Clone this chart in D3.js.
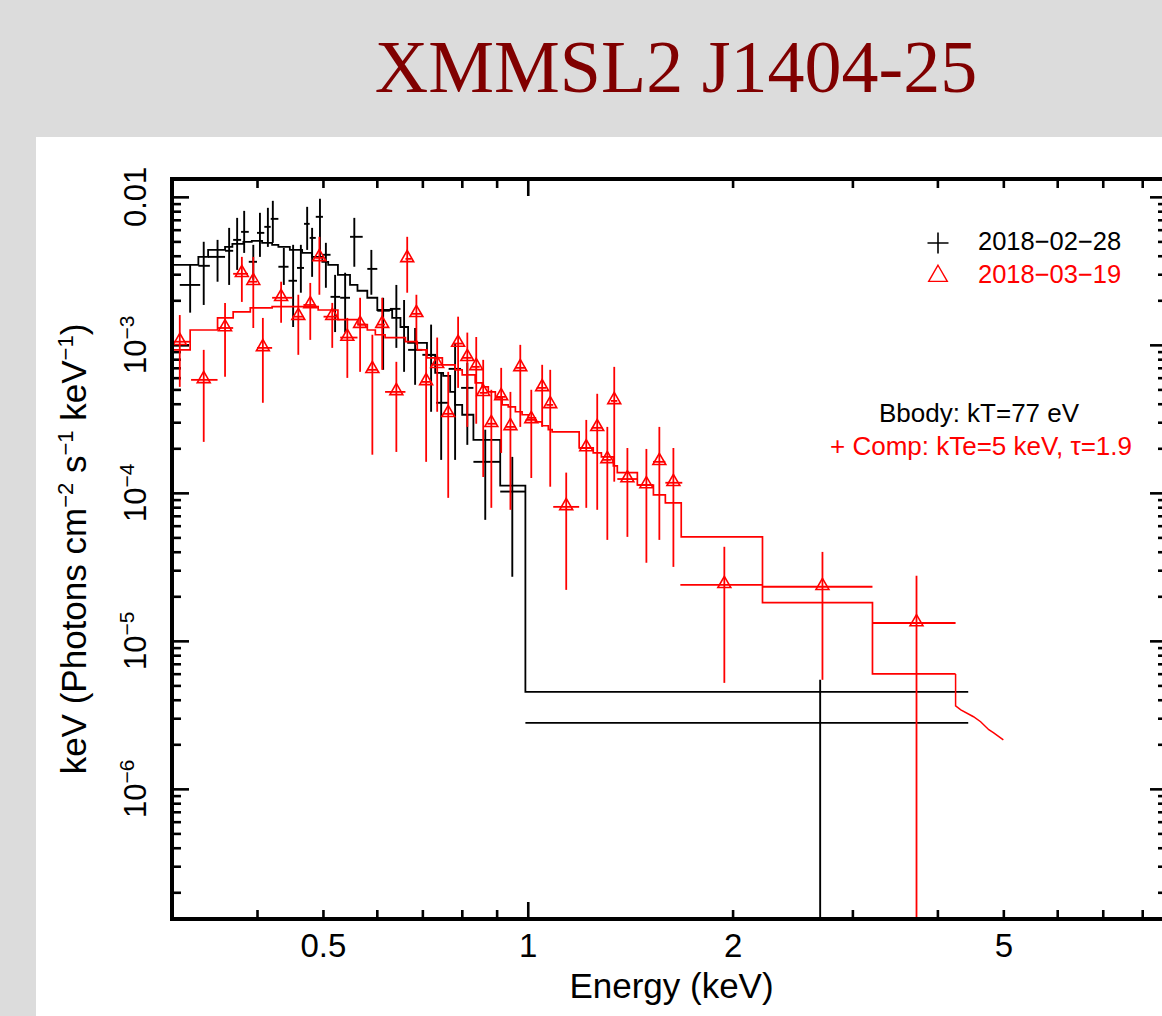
<!DOCTYPE html>
<html>
<head>
<meta charset="utf-8">
<script src="https://cdn.jsdelivr.net/npm/d3@7"></script>
<style>
  html, body { margin: 0; padding: 0; background: #dcdcdc; }
  svg { display: block; }
</style>
</head>
<body>
<svg id="chart" width="1162" height="1016"></svg>
<script>
// ---------------------------------------------------------------
// Unfolded X-ray spectra of XMMSL2 J1404-25 (two epochs) with fitted models
// ---------------------------------------------------------------
const titleText = "XMMSL2 J1404-25";
const xLabel = "Energy (keV)";
const seriesNames = ["2018\u221202\u221228", "2018\u221203\u221219"];
const modelNotes = ["Bbody: kT=77 eV", "+ Comp: kTe=5 keV, \u03c4=1.9"];

// axis ranges and ticks
const xDomain = [0.3, 8.7];
const yDomain = [1.32e-7, 1.32e-2];
const xTickLabels = [0.5, 1, 2, 5];
const xMajorTicks = [1];
const xMinorTicks = [0.4, 0.5, 0.6, 0.7, 0.8, 0.9, 2, 3, 4, 5, 6, 7, 8];
const yDecades = [1e-7, 1e-6, 1e-5, 1e-4, 1e-3, 1e-2];
const yTickLabels = [
  { v: 1e-2, base: "0.01", exp: "" },
  { v: 1e-3, base: "10", exp: "\u22123" },
  { v: 1e-4, base: "10", exp: "\u22124" },
  { v: 1e-5, base: "10", exp: "\u22125" },
  { v: 1e-6, base: "10", exp: "\u22126" }
];

// 2018-02-28 spectrum: [E, E low, E high, flux, flux low, flux high]
const epoch1Data = [
  [0.319, 0.308, 0.330, 2.54e-3, 1.65e-3, 3.47e-3],
  [0.334, 0.328, 0.341, 3.42e-3, 1.86e-3, 4.97e-3],
  [0.350, 0.339, 0.359, 3.93e-3, 2.67e-3, 5.12e-3],
  [0.364, 0.359, 0.369, 4.32e-3, 2.54e-3, 6.17e-3],
  [0.374, 0.369, 0.379, 5.12e-3, 3.21e-3, 7.21e-3],
  [0.383, 0.379, 0.389, 5.80e-3, 4.18e-3, 8.04e-3],
  [0.395, 0.389, 0.400, 3.64e-3, 2.75e-3, 4.74e-3],
  [0.404, 0.400, 0.410, 5.71e-3, 3.93e-3, 7.80e-3],
  [0.415, 0.410, 0.419, 6.27e-3, 4.59e-3, 8.43e-3],
  [0.422, 0.419, 0.430, 7.10e-3, 4.89e-3, 9.40e-3],
  [0.438, 0.430, 0.445, 3.37e-3, 2.54e-3, 4.52e-3],
  [0.452, 0.445, 0.458, 2.71e-3, 1.32e-3, 4.74e-3],
  [0.464, 0.458, 0.469, 3.31e-3, 2.25e-3, 4.74e-3],
  [0.474, 0.469, 0.478, 6.57e-3, 4.38e-3, 8.56e-3],
  [0.482, 0.478, 0.488, 5.28e-3, 2.88e-3, 6.17e-3],
  [0.495, 0.488, 0.500, 7.33e-3, 3.93e-3, 9.69e-3],
  [0.505, 0.500, 0.513, 4.06e-3, 2.43e-3, 4.89e-3],
  [0.521, 0.513, 0.530, 2.11e-3, 1.22e-3, 2.97e-3],
  [0.539, 0.530, 0.548, 2.08e-3, 1.21e-3, 3.07e-3],
  [0.556, 0.548, 0.572, 5.37e-3, 3.37e-3, 7.21e-3],
  [0.589, 0.581, 0.601, 3.26e-3, 2.18e-3, 4.38e-3],
  [0.613, 0.601, 0.627, 1.70e-3, 6.78e-4, 2.08e-3],
  [0.641, 0.627, 0.650, 1.75e-3, 9.54e-4, 2.54e-3],
  [0.658, 0.650, 0.667, 1.32e-3, 6.57e-4, 2.01e-3],
  [0.683, 0.667, 0.700, 9.25e-4, 5.37e-4, 1.30e-3],
  [0.721, 0.700, 0.733, 8.56e-4, 3.53e-4, 1.37e-3],
  [0.746, 0.733, 0.765, 4.06e-4, 1.67e-4, 6.47e-4],
  [0.782, 0.765, 0.798, 6.88e-4, 1.67e-4, 1.03e-3],
  [0.815, 0.798, 0.832, 5.12e-4, 2.11e-4, 7.56e-4],
  [0.866, 0.832, 0.911, 1.62e-4, 6.57e-5, 2.67e-4],
  [0.949, 0.911, 0.992, 1.02e-4, 2.71e-5, 1.75e-4],
  [2.69, 0.992, 4.44, 2.79e-6, 1e-9, 5.45e-6]
];

// 2018-03-19 spectrum: [E, E low, E high, flux, flux low, flux high]
const epoch2Data = [
  [0.308, 0.301, 0.319, 1.05e-3, 5.20e-4, 1.59e-3],
  [0.334, 0.320, 0.350, 5.80e-4, 2.21e-4, 9.25e-4],
  [0.359, 0.350, 0.369, 1.30e-3, 6.08e-4, 1.92e-3],
  [0.380, 0.369, 0.388, 3.02e-3, 1.95e-3, 3.93e-3],
  [0.395, 0.388, 0.400, 2.67e-3, 1.30e-3, 3.93e-3],
  [0.408, 0.400, 0.421, 9.54e-4, 4.06e-4, 1.52e-3],
  [0.434, 0.421, 0.451, 2.08e-3, 1.41e-3, 2.67e-3],
  [0.460, 0.451, 0.468, 1.55e-3, 8.56e-4, 2.18e-3],
  [0.479, 0.468, 0.487, 1.86e-3, 1.08e-3, 2.62e-3],
  [0.494, 0.487, 0.501, 3.87e-3, 2.18e-3, 5.37e-3],
  [0.516, 0.501, 0.526, 1.55e-3, 9.54e-4, 1.92e-3],
  [0.543, 0.530, 0.562, 1.12e-3, 5.98e-4, 1.52e-3],
  [0.567, 0.562, 0.579, 1.37e-3, 6.57e-4, 2.08e-3],
  [0.591, 0.581, 0.601, 6.78e-4, 1.81e-4, 1.17e-3],
  [0.611, 0.601, 0.617, 1.37e-3, 6.78e-4, 2.08e-3],
  [0.641, 0.617, 0.661, 4.81e-4, 1.89e-4, 7.68e-4],
  [0.665, 0.661, 0.675, 3.81e-3, 2.25e-3, 5.37e-3],
  [0.686, 0.675, 0.698, 1.62e-3, 1.00e-3, 2.18e-3],
  [0.709, 0.698, 0.722, 5.62e-4, 1.62e-4, 9.25e-4],
  [0.736, 0.722, 0.750, 7.33e-4, 3.53e-4, 1.12e-3],
  [0.764, 0.750, 0.777, 3.42e-4, 9.25e-5, 6.57e-4],
  [0.790, 0.777, 0.802, 1.02e-3, 5.12e-4, 1.55e-3],
  [0.815, 0.802, 0.827, 8.17e-4, 2.79e-4, 1.21e-3],
  [0.840, 0.827, 0.850, 7.10e-4, 2.93e-4, 1.13e-3],
  [0.860, 0.850, 0.872, 4.74e-4, 1.28e-4, 7.92e-4],
  [0.884, 0.872, 0.899, 2.93e-4, 7.92e-5, 4.97e-4],
  [0.914, 0.899, 0.928, 4.45e-4, 1.86e-4, 6.99e-4],
  [0.943, 0.928, 0.959, 2.79e-4, 7.68e-5, 4.81e-4],
  [0.975, 0.959, 0.993, 6.99e-4, 2.79e-4, 1.00e-3],
  [1.012, 0.993, 1.031, 3.11e-4, 1.26e-4, 4.97e-4],
  [1.050, 1.031, 1.065, 5.12e-4, 2.79e-4, 7.33e-4],
  [1.079, 1.065, 1.090, 3.93e-4, 1.10e-4, 6.78e-4],
  [1.139, 1.090, 1.190, 8.04e-5, 2.21e-5, 1.37e-4],
  [1.219, 1.190, 1.242, 2.01e-4, 7.92e-5, 3.11e-4],
  [1.265, 1.242, 1.287, 2.75e-4, 7.68e-5, 4.67e-4],
  [1.309, 1.287, 1.325, 1.67e-4, 4.81e-5, 2.79e-4],
  [1.340, 1.325, 1.354, 4.18e-4, 1.19e-4, 7.10e-4],
  [1.401, 1.354, 1.449, 1.24e-4, 5.04e-5, 2.01e-4],
  [1.494, 1.449, 1.528, 1.13e-4, 3.37e-5, 1.98e-4],
  [1.561, 1.528, 1.593, 1.62e-4, 4.81e-5, 2.79e-4],
  [1.637, 1.593, 1.687, 1.17e-4, 3.16e-5, 2.01e-4],
  [1.945, 1.676, 2.213, 2.39e-5, 5.20e-6, 4.32e-5],
  [2.711, 2.213, 3.211, 2.32e-5, 5.45e-6, 3.99e-5],
  [3.727, 3.211, 4.254, 1.32e-5, 1e-9, 2.75e-5]
];

// folded model histograms: bin edges and values
const epoch1ModelEdges = [0.301, 0.328, 0.339, 0.359, 0.368, 0.382, 0.393, 0.407, 0.421, 0.430,
  0.447, 0.466, 0.482, 0.499, 0.509, 0.526, 0.548, 0.562, 0.581, 0.601, 0.632, 0.650, 0.667,
  0.711, 0.731, 0.751, 0.769, 0.782, 0.801, 0.832, 0.911, 0.992, 4.44];
const epoch1ModelValues = [3.47e-3, 3.93e-3, 4.38e-3, 4.59e-3, 4.81e-3, 4.97e-3, 5.04e-3, 4.89e-3,
  4.74e-3, 4.59e-3, 4.38e-3, 4.18e-3, 3.93e-3, 3.64e-3, 3.47e-3, 2.97e-3, 2.54e-3, 2.32e-3,
  2.08e-3, 1.72e-3, 1.52e-3, 1.32e-3, 1.03e-3, 8.56e-4, 6.47e-4, 6.17e-4, 4.81e-4, 3.93e-4,
  3.37e-4, 2.28e-4, 1.12e-4, 4.52e-6];

const epoch2ModelEdges = [0.301, 0.319, 0.350, 0.369, 0.391, 0.421, 0.492, 0.526, 0.563, 0.581,
  0.597, 0.617, 0.661, 0.688, 0.711, 0.749, 0.782, 0.801, 0.837, 0.857, 0.875, 0.896, 0.917,
  0.936, 0.959, 0.981, 1.002, 1.026, 1.050, 1.072, 1.086, 1.190, 1.248, 1.283, 1.336, 1.354,
  1.449, 1.530, 1.593, 1.681, 2.213, 3.211, 4.254];
const epoch2ModelValues = [9.25e-4, 1.26e-3, 1.52e-3, 1.67e-3, 1.78e-3, 1.81e-3, 1.72e-3, 1.48e-3,
  1.37e-3, 1.26e-3, 1.17e-3, 1.12e-3, 1.05e-3, 9.25e-4, 8.17e-4, 7.33e-4, 6.78e-4, 6.27e-4,
  5.53e-4, 5.20e-4, 4.81e-4, 4.38e-4, 3.93e-4, 3.81e-4, 3.53e-4, 3.37e-4, 3.21e-4, 3.02e-4,
  2.84e-4, 2.67e-4, 2.58e-4, 2.01e-4, 1.86e-4, 1.75e-4, 1.52e-4, 1.37e-4, 1.13e-4, 9.69e-5,
  8.56e-5, 5.04e-5, 1.81e-5, 5.98e-6];
// model continuation above the last data bin
const epoch2ModelTail = [[4.254, 5.98e-6], [4.254, 3.64e-6], [4.33, 3.42e-6], [4.52, 3.07e-6],
  [4.63, 2.84e-6], [4.76, 2.51e-6], [4.84, 2.39e-6], [5.0, 2.14e-6]];

// ---------------------------------------------------------------
const W = 1162, H = 1016;
const SANS = "'Liberation Sans', Arial, Helvetica, sans-serif";
const RED = "#ff0000";
const svg = d3.select("#chart");

// page background and white figure panel
svg.append("rect").attr("width", W).attr("height", H).attr("fill", "#dcdcdc");
svg.append("rect").attr("x", 36).attr("y", 137).attr("width", W - 36).attr("height", H - 137)
  .attr("fill", "#ffffff");

svg.append("text")
  .attr("x", 676).attr("y", 92)
  .attr("text-anchor", "middle")
  .attr("font-family", "'Liberation Serif', 'Times New Roman', serif")
  .attr("font-size", 74)
  .attr("fill", "#800000")
  .text(titleText);

const plot = { left: 172, right: 1167, top: 179, bottom: 919 };
const x = d3.scaleLog().domain(xDomain).range([plot.left, plot.right]);
const y = d3.scaleLog().domain(yDomain).range([plot.bottom, plot.top]);

svg.append("clipPath").attr("id", "plotClip")
  .append("rect").attr("x", plot.left).attr("y", plot.top)
  .attr("width", plot.right - plot.left).attr("height", plot.bottom - plot.top);

// ---- inward ticks on all four sides ----
const yMinorTicks = [];
yDecades.forEach(d => { for (let k = 2; k <= 9; k++) { const v = d * k; if (v < yDomain[1]) yMinorTicks.push(v); } });
const yMajorTicks = yDecades.filter(v => v > yDomain[0] && v < yDomain[1]);

function tickGroup(axis, vals, len, tx, ty) {
  const g = svg.append("g").attr("transform", `translate(${tx},${ty})`)
    .call(axis.tickValues(vals).tickSize(-len).tickFormat(""));
  g.select(".domain").remove();
  g.selectAll("line").attr("stroke", "#000").attr("stroke-width", 2.6);
}
tickGroup(d3.axisBottom(x), xMinorTicks, 9, 0, plot.bottom);
tickGroup(d3.axisBottom(x), xMajorTicks, 17, 0, plot.bottom);
tickGroup(d3.axisTop(x), xMinorTicks, 9, 0, plot.top);
tickGroup(d3.axisTop(x), xMajorTicks, 17, 0, plot.top);
tickGroup(d3.axisLeft(y), yMinorTicks, 9, plot.left, 0);
tickGroup(d3.axisLeft(y), yMajorTicks, 17, plot.left, 0);
tickGroup(d3.axisRight(y), yMinorTicks, 9, plot.right, 0);
tickGroup(d3.axisRight(y), yMajorTicks, 17, plot.right, 0);

// ---- x tick labels ----
const xl = svg.append("g").attr("transform", `translate(0,${plot.bottom})`)
  .call(d3.axisBottom(x).tickValues(xTickLabels).tickSize(0).tickPadding(15)
    .tickFormat(d => String(d)));
xl.select(".domain").remove();
xl.selectAll("text").attr("font-family", SANS).attr("font-size", 33).attr("fill", "#000");

// ---- y tick labels (rotated, with exponents) ----
yTickLabels.forEach(t => {
  const ty = y(t.v), tx = 146;
  const txt = svg.append("text")
    .attr("transform", `translate(${tx},${ty}) rotate(-90)`)
    .attr("text-anchor", "middle")
    .attr("font-family", SANS).attr("font-size", 31).attr("fill", "#000");
  txt.append("tspan").text(t.base);
  if (t.exp) txt.append("tspan").attr("dy", -12).attr("font-size", 21).text(t.exp);
});

// ---- axis titles ----
svg.append("text")
  .attr("x", (plot.left + plot.right) / 2 + 2).attr("y", 998)
  .attr("text-anchor", "middle")
  .attr("font-family", SANS).attr("font-size", 35).attr("fill", "#000")
  .text(xLabel);

const yl = svg.append("text")
  .attr("transform", `translate(86,${(plot.top + plot.bottom) / 2}) rotate(-90)`)
  .attr("text-anchor", "middle")
  .attr("font-family", SANS).attr("font-size", 35).attr("fill", "#000");
[["keV (Photons cm", false], ["\u22122", true], [" s", false], ["\u22121", true],
 [" keV", false], ["\u22121", true], [")", false]].forEach(([s, sup], i, arr) => {
  const ts = yl.append("tspan").text(s);
  if (sup) ts.attr("dy", -13).attr("font-size", 22);
  else if (i > 0 && arr[i - 1][1]) ts.attr("dy", 13);
});

// ---- data and models ----
const layer = svg.append("g").attr("clip-path", "url(#plotClip)");

function stepPoints(edges, vals) {
  const pts = vals.map((v, i) => [edges[i], v]);
  pts.push([edges[edges.length - 1], vals[vals.length - 1]]);
  return pts;
}
const stepLine = d3.line().x(d => x(d[0])).y(d => y(d[1])).curve(d3.curveStepAfter);
const plainLine = d3.line().x(d => x(d[0])).y(d => y(d[1]));

function errorBars(data, color, width) {
  const g = layer.append("g").attr("stroke", color).attr("stroke-width", width).attr("fill", "none");
  g.selectAll("line.v").data(data).join("line").attr("class", "v")
    .attr("x1", d => x(d[0])).attr("x2", d => x(d[0]))
    .attr("y1", d => y(d[4])).attr("y2", d => y(d[5]));
  g.selectAll("line.h").data(data).join("line").attr("class", "h")
    .attr("x1", d => x(d[1])).attr("x2", d => x(d[2]))
    .attr("y1", d => y(d[3])).attr("y2", d => y(d[3]));
  return g;
}

// 2018-02-28 (black)
errorBars(epoch1Data, "#000", 1.9);
layer.append("path").datum(stepPoints(epoch1ModelEdges, epoch1ModelValues))
  .attr("d", stepLine).attr("fill", "none").attr("stroke", "#000").attr("stroke-width", 1.8);

// 2018-03-19 (red)
errorBars(epoch2Data, RED, 1.8);
layer.append("path").datum(stepPoints(epoch2ModelEdges, epoch2ModelValues))
  .attr("d", stepLine).attr("fill", "none").attr("stroke", RED).attr("stroke-width", 1.7);
layer.append("path").datum(epoch2ModelTail)
  .attr("d", plainLine).attr("fill", "none").attr("stroke", RED).attr("stroke-width", 1.5);

const tri = d3.symbol().type(d3.symbolTriangle).size(72);
layer.append("g").selectAll("path").data(epoch2Data).join("path")
  .attr("transform", d => `translate(${x(d[0])},${y(d[3]) - 1})`)
  .attr("d", tri).attr("fill", "none").attr("stroke", RED).attr("stroke-width", 1.6);

// ---- frame ----
svg.append("rect")
  .attr("x", plot.left).attr("y", plot.top)
  .attr("width", plot.right - plot.left).attr("height", plot.bottom - plot.top)
  .attr("fill", "none").attr("stroke", "#000").attr("stroke-width", 4);

// ---- legend ----
const leg = svg.append("g").attr("font-family", SANS).attr("font-size", 25.5);
leg.append("path").attr("d", "M927.5,243H948.5M938,232.5V253.5")
  .attr("stroke", "#000").attr("stroke-width", 1.6);
leg.append("text").attr("x", 978).attr("y", 250).attr("fill", "#000").text(seriesNames[0]);
leg.append("path")
  .attr("transform", "translate(938,276)")
  .attr("d", d3.symbol().type(d3.symbolTriangle).size(150)())
  .attr("fill", "none").attr("stroke", RED).attr("stroke-width", 1.4);
leg.append("text").attr("x", 978).attr("y", 283).attr("fill", RED).text(seriesNames[1]);

// ---- model annotations ----
const notes = svg.append("g").attr("font-family", SANS).attr("font-size", 26).attr("text-anchor", "middle");
notes.append("text").attr("x", 979).attr("y", 422).attr("fill", "#000").text(modelNotes[0]);
notes.append("text").attr("x", 981).attr("y", 455).attr("fill", RED).text(modelNotes[1]);
</script>
</body>
</html>
